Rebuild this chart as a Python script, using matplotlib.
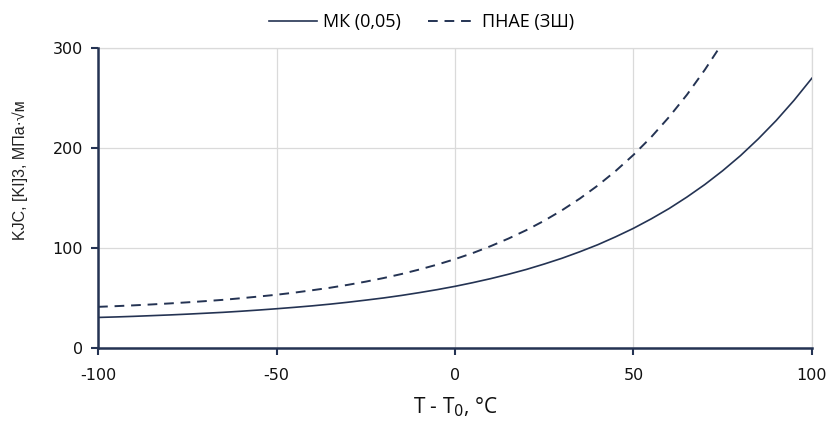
import matplotlib.pyplot as plt

plt.rcParams['axes.unicode_minus'] = False

# температура T - T0, °C
t_mk = [-100, -95, -90, -85, -80, -75, -70, -65, -60, -55, -50, -45, -40, -35, -30,
        -25, -20, -15, -10, -5, 0, 5, 10, 15, 20, 25, 30, 35, 40, 45, 50, 55, 60,
        65, 70, 75, 80, 85, 90, 95, 100]
k_mk = [30.7, 31.2, 31.8, 32.5, 33.2, 34.0, 34.9, 35.8, 36.9, 38.1, 39.4, 40.8, 42.3,
        44.0, 45.9, 48.0, 50.2, 52.7, 55.5, 58.5, 61.8, 65.5, 69.5, 73.9, 78.7, 84.1,
        89.9, 96.4, 103.4, 111.3, 119.8, 129.3, 139.6, 151.1, 163.6, 177.4, 192.5,
        209.3, 227.6, 247.8, 269.9]

t_pnae = [-100, -95, -90, -85, -80, -75, -70, -65, -60, -55, -50, -45, -40, -35, -30,
          -25, -20, -15, -10, -5, 0, 5, 10, 15, 20, 25, 30, 35, 40, 45, 50, 55, 60,
          65, 70, 74]
k_pnae = [41.3, 42.0, 42.8, 43.7, 44.7, 45.8, 47.0, 48.3, 49.9, 51.6, 53.4, 55.5, 57.9,
          60.4, 63.3, 66.5, 70.1, 74.1, 78.6, 83.5, 89.0, 95.1, 102.0, 109.6, 118.0,
          127.4, 137.9, 149.6, 162.6, 177.1, 193.2, 211.1, 231.2, 253.4, 278.3, 300.0]

x_ticks = [-100, -50, 0, 50, 100]
y_ticks = [0, 100, 200, 300]

navy = '#243353'
grid_c = '#dadada'

fig = plt.figure(figsize=(8.31, 4.22), dpi=100)
ax = fig.add_axes([0.118, 0.175, 0.859, 0.711])

l1, = ax.plot(t_mk, k_mk, color=navy, lw=1.2, label='МК (0,05)')
l2, = ax.plot(t_pnae, k_pnae, color=navy, lw=1.4, ls=(0, (5, 3.5)), label='ПНАЕ (ЗШ)')

ax.set_xlim(-100, 100)
ax.set_ylim(0, 300)
ax.set_xticks(x_ticks)
ax.set_yticks(y_ticks)
ax.grid(True, color=grid_c, lw=0.9)
ax.set_axisbelow(True)

for s in ['top', 'right']:
    ax.spines[s].set_visible(False)
for s in ['left', 'bottom']:
    ax.spines[s].set_color(navy)
    ax.spines[s].set_linewidth(1.8)
# рамка справа и сверху - как линии сетки
ax.plot([100, 100], [0, 300], color=grid_c, lw=0.9, clip_on=False, zorder=0)
ax.plot([-100, 100], [300, 300], color=grid_c, lw=0.9, clip_on=False, zorder=0)

ax.tick_params(axis='both', direction='out', length=5, width=1.5, color=navy,
               labelsize=11.5, labelcolor='#111111')
ax.tick_params(axis='x', pad=9)
ax.tick_params(axis='y', pad=6)
for lab in ax.get_xticklabels() + ax.get_yticklabels():
    lab.set_family('DejaVu Sans')

fig.text(0.548, 0.036, 'T - T$_0$, °C', ha='center', va='center',
         fontsize=15, family='Open Sans', color='#111111')
fig.text(0.024, 0.597, 'KJC, [KI]3, МПа·√м', rotation=90, ha='center', va='center',
         fontsize=11.5, family='Liberation Sans', color='#222222')

fig.legend(handles=[l1, l2], loc='center', bbox_to_anchor=(0.507, 0.948), ncol=2,
           frameon=False, handlelength=2.7, columnspacing=1.5, handletextpad=0.3,
           prop={'family': 'Open Sans', 'size': 13})

fig.savefig('out.png', dpi=100)
